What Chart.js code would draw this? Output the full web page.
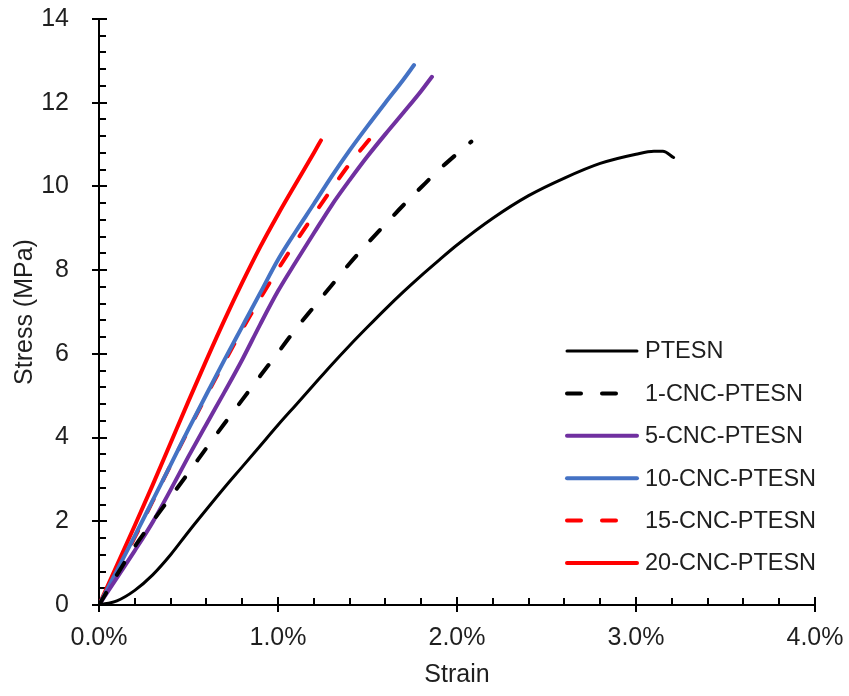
<!DOCTYPE html>
<html>
<head>
<meta charset="utf-8">
<script src="https://cdn.jsdelivr.net/npm/chart.js@4.4.1/dist/chart.umd.min.js"></script>
<style>
  html, body { margin: 0; padding: 0; background: #ffffff; }
  #wrap { width: 849px; height: 696px; }
</style>
</head>
<body>
<div id="wrap"><canvas id="c" width="849" height="696"></canvas></div>
<script>
// ---- Data (strain in %, stress in MPa) ----
const seriesLabels = ['PTESN', '1-CNC-PTESN', '5-CNC-PTESN', '10-CNC-PTESN', '15-CNC-PTESN', '20-CNC-PTESN'];

const ptesnStrain = [0, 0.1, 0.2, 0.3, 0.4, 0.5, 0.6, 0.7, 0.8, 0.9, 1.0, 1.1, 1.2, 1.3, 1.4, 1.5, 1.6, 1.7, 1.8, 1.9, 2.0, 2.2, 2.4, 2.6, 2.8, 3.0, 3.1, 3.15, 3.21];
const ptesnStress = [0, 0.1, 0.35, 0.72, 1.2, 1.75, 2.28, 2.8, 3.3, 3.8, 4.3, 4.78, 5.26, 5.74, 6.2, 6.64, 7.07, 7.48, 7.87, 8.24, 8.6, 9.24, 9.78, 10.2, 10.55, 10.77, 10.84, 10.84, 10.69];

const cnc1Strain = [0, 0.1, 0.2, 0.3, 0.4, 0.5, 0.6, 0.7, 0.8, 0.9, 1.0, 1.1, 1.2, 1.3, 1.4, 1.5, 1.6, 1.7, 1.8, 1.9, 2.0, 2.08];
const cnc1Stress = [0, 0.72, 1.4, 2.0, 2.58, 3.16, 3.75, 4.33, 4.9, 5.47, 6.03, 6.6, 7.12, 7.64, 8.16, 8.64, 9.1, 9.55, 9.98, 10.4, 10.78, 11.07];

const cnc5Strain = [0, 0.1, 0.2, 0.3, 0.4, 0.5, 0.6, 0.7, 0.8, 0.9, 1.0, 1.1, 1.2, 1.3, 1.4, 1.5, 1.6, 1.7, 1.8, 1.86];
const cnc5Stress = [0, 0.65, 1.3, 1.98, 2.75, 3.55, 4.32, 5.08, 5.86, 6.7, 7.5, 8.2, 8.88, 9.55, 10.15, 10.72, 11.25, 11.76, 12.28, 12.62];

const cnc10Strain = [0, 0.1, 0.2, 0.3, 0.4, 0.5, 0.6, 0.7, 0.8, 0.9, 1.0, 1.1, 1.2, 1.3, 1.4, 1.5, 1.6, 1.7, 1.76];
const cnc10Stress = [0, 0.82, 1.65, 2.5, 3.35, 4.2, 5.03, 5.85, 6.65, 7.45, 8.25, 8.93, 9.58, 10.24, 10.86, 11.44, 12.0, 12.55, 12.9];

const cnc15Strain = [0, 0.1, 0.2, 0.3, 0.4, 0.5, 0.6, 0.7, 0.8, 0.9, 1.0, 1.1, 1.2, 1.3, 1.4, 1.51];
const cnc15Stress = [0, 0.8, 1.62, 2.48, 3.34, 4.18, 5.0, 5.8, 6.58, 7.32, 8.02, 8.68, 9.32, 9.94, 10.54, 11.12];

const cnc20Strain = [0, 0.1, 0.2, 0.3, 0.4, 0.5, 0.6, 0.7, 0.8, 0.9, 1.0, 1.1, 1.2, 1.24];
const cnc20Stress = [0, 0.95, 1.9, 2.87, 3.87, 4.87, 5.85, 6.8, 7.7, 8.55, 9.33, 10.07, 10.8, 11.1];

const xTickValues = [0, 1, 2, 3, 4];
const yTickValues = [0, 2, 4, 6, 8, 10, 12, 14];
const xMinorStep = 0.2;
const yMinorStep = 0.4;

function pts(xs, ys) { return xs.map((x, i) => ({ x: x, y: ys[i] })); }

const FONT = "'Liberation Sans', Arial, sans-serif";
const TEXT = '#1f1f1f';

const datasets = [
  { label: seriesLabels[0], data: pts(ptesnStrain, ptesnStress), borderColor: '#000000', borderWidth: 3, borderDash: [] },
  { label: seriesLabels[1], data: pts(cnc1Strain, cnc1Stress), borderColor: '#000000', borderWidth: 4, borderDash: [14, 21] },
  { label: seriesLabels[2], data: pts(cnc5Strain, cnc5Stress), borderColor: '#7030A0', borderWidth: 4, borderDash: [] },
  { label: seriesLabels[3], data: pts(cnc10Strain, cnc10Stress), borderColor: '#4472C4', borderWidth: 4, borderDash: [] },
  { label: seriesLabels[4], data: pts(cnc15Strain, cnc15Stress), borderColor: '#FF0000', borderWidth: 4, borderDash: [14, 21] },
  { label: seriesLabels[5], data: pts(cnc20Strain, cnc20Stress), borderColor: '#FF0000', borderWidth: 4, borderDash: [] }
].map(d => Object.assign(d, {
  showLine: true, pointRadius: 0, pointHoverRadius: 0, fill: false,
  cubicInterpolationMode: 'monotone', borderCapStyle: 'round', borderJoinStyle: 'round'
}));

// Custom tick marks (major crossing, minor inside)
const tickMarks = {
  id: 'tickMarks',
  beforeDatasetsDraw(chart) {
    const ctx = chart.ctx;
    const xs = chart.scales.x, ys = chart.scales.y;
    const x0 = xs.getPixelForValue(0), y0 = ys.getPixelForValue(0);
    ctx.save();
    ctx.strokeStyle = '#000000';
    ctx.lineWidth = 2;
    ctx.lineCap = 'butt';
    ctx.beginPath();
    for (let v = 0; v <= 14 + 1e-9; v += yMinorStep) {
      const py = Math.round(ys.getPixelForValue(v));
      const isMajor = yTickValues.some(t => Math.abs(t - v) < 1e-6);
      if (isMajor) { ctx.moveTo(x0 - 7, py); ctx.lineTo(x0 + 8, py); }
      else { ctx.moveTo(x0, py); ctx.lineTo(x0 + 7, py); }
    }
    for (let v = 0; v <= 4 + 1e-9; v += xMinorStep) {
      const px = Math.round(xs.getPixelForValue(v));
      const isMajor = xTickValues.some(t => Math.abs(t - v) < 1e-6);
      if (isMajor) { ctx.moveTo(px, y0 - 8); ctx.lineTo(px, y0 + 7); }
      else { ctx.moveTo(px, y0 - 7); ctx.lineTo(px, y0); }
    }
    ctx.stroke();
    ctx.beginPath();
    ctx.moveTo(x0, ys.getPixelForValue(14));
    ctx.lineTo(x0, y0);
    ctx.lineTo(xs.getPixelForValue(4), y0);
    ctx.stroke();
    ctx.restore();
  }
};

// Legend drawn inside the plot area
const innerLegend = {
  id: 'innerLegend',
  afterDraw(chart) {
    const ctx = chart.ctx;
    const lineX1 = 567, lineX2 = 637, textX = 645, rowY0 = 351, rowStep = 42.4;
    ctx.save();
    chart.data.datasets.forEach((ds, i) => {
      const y = rowY0 + i * rowStep;
      ctx.strokeStyle = ds.borderColor;
      ctx.lineWidth = ds.borderWidth;
      ctx.lineCap = 'round';
      ctx.setLineDash(ds.borderDash || []);
      ctx.beginPath();
      ctx.moveTo(lineX1, y);
      ctx.lineTo(ds.borderDash && ds.borderDash.length ? lineX2 - 14 : lineX2, y);
      ctx.stroke();
      ctx.setLineDash([]);
      ctx.fillStyle = TEXT;
      ctx.font = '23.5px ' + FONT;
      ctx.textBaseline = 'middle';
      ctx.textAlign = 'left';
      ctx.fillText(ds.label, textX, y + 1);
    });
    ctx.restore();
  }
};

new Chart(document.getElementById('c'), {
  type: 'scatter',
  data: { datasets: datasets },
  options: {
    responsive: false,
    animation: false,
    events: [],
    layout: { padding: { left: 0, top: 19, right: 34, bottom: 0 } },
    plugins: { legend: { display: false }, tooltip: { enabled: false } },
    scales: {
      x: {
        type: 'linear', min: 0, max: 4,
        afterFit(s) { s.height = 91; s.paddingLeft = 0; s.paddingRight = 0; },
        afterBuildTicks(s) { s.ticks = xTickValues.map(v => ({ value: v })); },
        grid: { display: false },
        border: { display: false },
        ticks: {
          color: TEXT, font: { family: FONT, size: 25 }, padding: 10,
          maxRotation: 0, autoSkip: false,
          callback: v => v.toFixed(1) + '%'
        },
        title: { display: true, text: 'Strain', color: TEXT, font: { family: FONT, size: 25 }, padding: { top: 0, bottom: 6 } }
      },
      y: {
        type: 'linear', min: 0, max: 14,
        afterFit(s) { s.width = 99; s.paddingTop = 0; s.paddingBottom = 0; },
        afterBuildTicks(s) { s.ticks = yTickValues.map(v => ({ value: v })); },
        grid: { display: false },
        border: { display: false },
        ticks: {
          color: TEXT, font: { family: FONT, size: 25 }, padding: 22,
          autoSkip: false,
          callback: v => String(v)
        },
        title: { display: true, text: 'Stress (MPa)', color: TEXT, font: { family: FONT, size: 25 }, padding: { top: 10, bottom: 0 } }
      }
    }
  },
  plugins: [tickMarks, innerLegend]
});
</script>
</body>
</html>
